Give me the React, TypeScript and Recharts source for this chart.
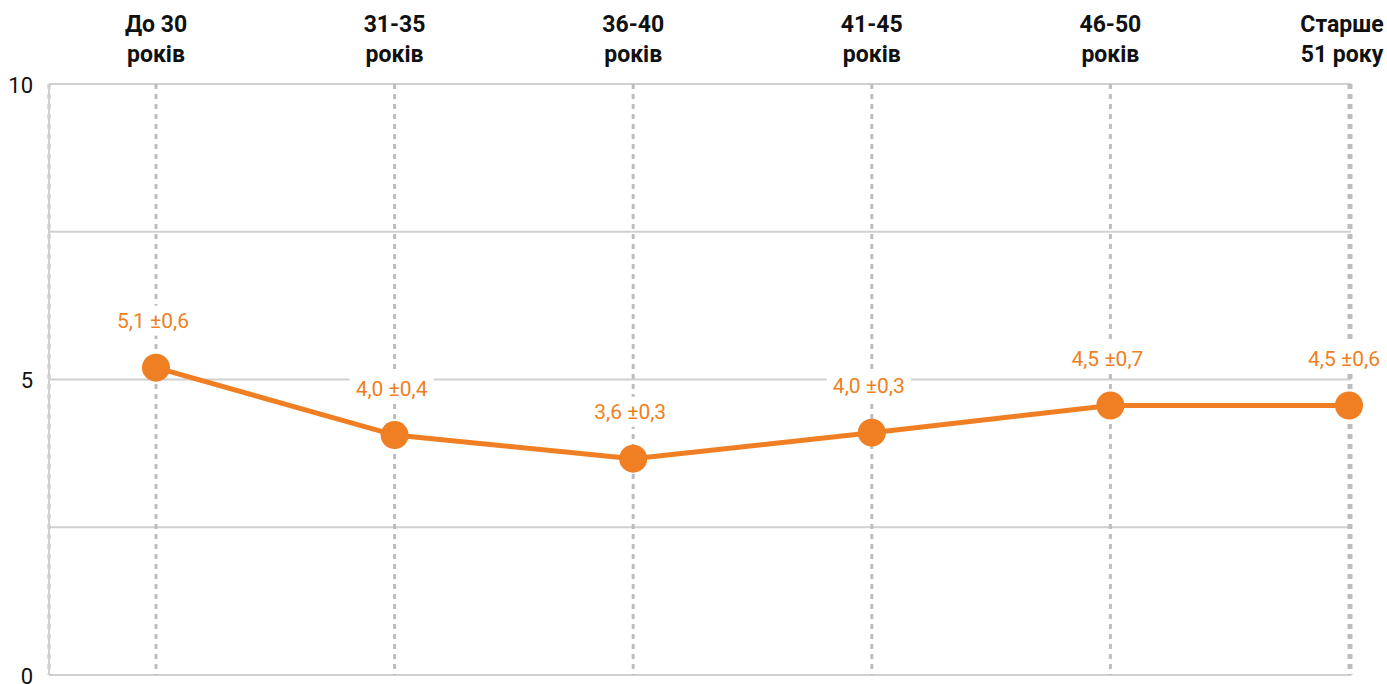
import React from "react";
import {
  LineChart,
  Line,
  XAxis,
  YAxis,
  CartesianGrid,
  LabelList,
} from "recharts";

const categories = [
  "До 30\nроків",
  "31-35\nроків",
  "36-40\nроків",
  "41-45\nроків",
  "46-50\nроків",
  "Старше\n51 року",
];
const values = [5.2, 4.06, 3.66, 4.1, 4.56, 4.56];
const labels = ["5,1 ±0,6", "4,0 ±0,4", "3,6 ±0,3", "4,0 ±0,3", "4,5 ±0,7", "4,5 ±0,6"];
const yTicks = [0, 2.5, 5, 7.5, 10];

const W = 1387;
const H = 684;
const ORANGE = "#EF7F22";
const FONT = "Roboto, 'Noto Sans', sans-serif";

const data = categories.map((c, i) => ({ name: c, value: values[i], label: labels[i] }));

function TopTick(props: any) {
  const { x, payload } = props;
  const lines = String(payload.value).split("\n");
  const cx = Math.min(x, W - 45);
  return (
    <g>
      {lines.map((t, i) => (
        <text
          key={i}
          x={cx}
          y={24 + i * 30}
          dy="0.36em"
          textAnchor="middle"
          fontFamily={FONT}
          fontWeight={700}
          fontSize={23}
          fill="#111"
        >
          {t}
        </text>
      ))}
    </g>
  );
}

function LeftTick(props: any) {
  const { x, y, payload } = props;
  if (payload.value % 5 !== 0) return null;
  return (
    <text x={x} y={y} dy="0.4em" textAnchor="end" fontFamily={FONT} fontSize={22} fill="#111">
      {payload.value}
    </text>
  );
}

function PointLabel(props: any) {
  const { x, y, value } = props;
  const w = 84;
  const cx = Math.min(x - 3, W - 43);
  const cy = y - 47;
  return (
    <g>
      <rect x={cx - w / 2} y={cy - 15} width={w} height={30} fill="#fff" />
      <text
        x={cx}
        y={cy}
        dy="0.36em"
        textAnchor="middle"
        fontFamily={FONT}
        fontSize={21}
        fill={ORANGE}
      >
        {value}
      </text>
    </g>
  );
}

export default function App() {
  return (
    <div style={{ position: "absolute", left: 0, top: 0, width: W, height: H, background: "#fff" }}>
      <LineChart width={W} height={H} data={data} margin={{ top: 0, right: 36, left: 0, bottom: 9 }}>
        <CartesianGrid horizontal={true} vertical={false} stroke="#d0d0d0" strokeWidth={2} />
        <CartesianGrid
          horizontal={false}
          vertical={true}
          stroke="#bdbdbd"
          strokeWidth={3}
          strokeDasharray="5 5"
        />
        <XAxis
          dataKey="name"
          orientation="top"
          height={84}
          axisLine={false}
          tickLine={false}
          padding={{ left: 107, right: 2 }}
          interval={0}
          tick={<TopTick />}
        />
        <YAxis
          domain={[0, 10]}
          ticks={yTicks}
          width={49}
          axisLine={{ stroke: "#d0d0d0", strokeWidth: 2 }}
          tickLine={false}
          tickSize={0}
          tickMargin={16}
          tick={<LeftTick />}
        />
        <Line
          type="linear"
          dataKey="value"
          stroke={ORANGE}
          strokeWidth={5}
          dot={{ r: 14, fill: ORANGE, stroke: "none" }}
          activeDot={false}
          isAnimationActive={false}
        >
          <LabelList dataKey="label" content={<PointLabel />} />
        </Line>
      </LineChart>
    </div>
  );
}
